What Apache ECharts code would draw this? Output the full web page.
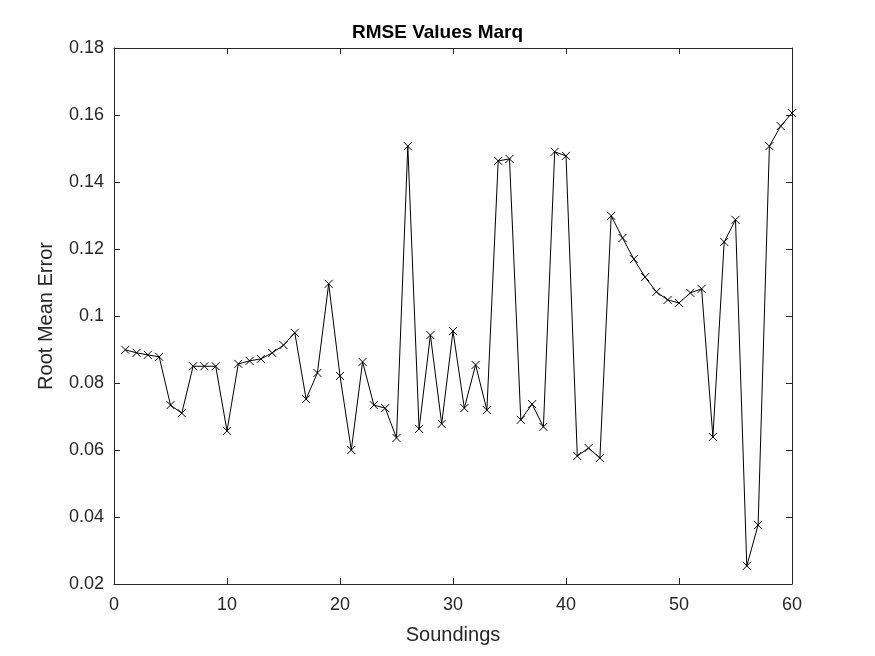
<!DOCTYPE html>
<html>
<head>
<meta charset="utf-8">
<script src="https://cdn.jsdelivr.net/npm/echarts@6/dist/echarts.min.js"></script>
<style>html,body{margin:0;padding:0;background:#fff}#main{width:875px;height:656px}</style>
</head>
<body>
<div id="main"></div>
<script>
// soundings 1..60
const soundings = Array.from({length: 60}, (_, i) => i + 1);
const rmseValues = [
  0.0899, 0.0890, 0.0884, 0.0878, 0.0734, 0.0710, 0.0850, 0.0850, 0.0850, 0.0657,
  0.0857, 0.0866, 0.0872, 0.0890, 0.0913, 0.0950, 0.0752, 0.0830, 0.1096, 0.0821,
  0.0600, 0.0863, 0.0734, 0.0725, 0.0636, 0.1507, 0.0663, 0.0943, 0.0678, 0.0955,
  0.0725, 0.0854, 0.0719, 0.1463, 0.1469, 0.0690, 0.0737, 0.0669, 0.1490, 0.1478,
  0.0582, 0.0606, 0.0576, 0.1299, 0.1233, 0.1170, 0.1116, 0.1072, 0.1048, 0.1039,
  0.1069, 0.1081, 0.0639, 0.1221, 0.1287, 0.0254, 0.0376, 0.1507, 0.1567, 0.1606
];

const chart = echarts.init(document.getElementById('main'));
const font = 'Arial, "Liberation Sans", sans-serif';
const axisBase = {
  axisLine: {show: true, onZero: false, lineStyle: {color: '#262626', width: 1}},
  axisTick: {show: true, inside: true, length: 6, lineStyle: {color: '#262626'}},
  splitLine: {show: false}
};
chart.setOption({
  animation: false,
  title: {
    text: 'RMSE Values Marq', left: 'center', top: 18,
    textStyle: {fontFamily: font, fontSize: 19, fontWeight: 'bold', color: '#000'}
  },
  grid: {left: 114, right: 83, top: 48, bottom: 72},
  xAxis: [
    {...axisBase, type: 'value', min: 0, max: 60, interval: 10, position: 'bottom',
      name: 'Soundings', nameLocation: 'middle', nameGap: 41,
      nameTextStyle: {fontFamily: font, fontSize: 20, color: '#262626'},
      axisLabel: {fontFamily: font, fontSize: 18, color: '#262626', margin: 12}},
    {...axisBase, type: 'value', min: 0, max: 60, interval: 10, position: 'top',
      axisLabel: {show: false}}
  ],
  yAxis: [
    {...axisBase, type: 'value', min: 0.02, max: 0.18, interval: 0.02, position: 'left',
      name: 'Root Mean Error', nameLocation: 'middle', nameGap: 58,
      nameTextStyle: {fontFamily: font, fontSize: 20, color: '#262626'},
      axisLabel: {fontFamily: font, fontSize: 18, color: '#262626', margin: 10,
        formatter: v => String(parseFloat(v.toFixed(2)))}},
    {...axisBase, type: 'value', min: 0.02, max: 0.18, interval: 0.02, position: 'right',
      axisLabel: {show: false}}
  ],
  series: [{
    type: 'line',
    data: soundings.map((s, i) => [s, rmseValues[i]]),
    symbol: 'path://M0,0L10,10M10,0L0,10',
    symbolSize: 8,
    showAllSymbol: true,
    lineStyle: {color: '#000', width: 1},
    itemStyle: {color: 'none', borderColor: '#000', borderWidth: 1}
  }]
});
</script>
</body>
</html>
